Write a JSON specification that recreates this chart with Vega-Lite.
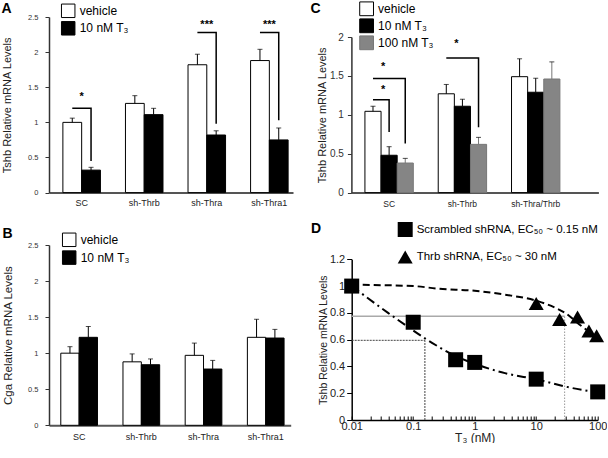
{
"$schema":"https://vega.github.io/schema/vega-lite/v6.json",
"padding":{"left":1,"top":1,"right":0,"bottom":0},
"config":{"font":"Liberation Sans","view":{"stroke":null},"axis":{"grid":false,"labelFont":"Liberation Sans","titleFont":"Liberation Sans","titleFontWeight":"normal"},"legend":{"labelFont":"Liberation Sans","labelLimit":400},"title":{"font":"Liberation Sans"}},
"resolve":{"scale":{"fill":"independent","stroke":"independent","shape":"independent","xOffset":"independent"},"legend":{"fill":"independent","shape":"independent"}},
"spacing":13,
"vconcat":[
{"hconcat":[
 {"width":244,"height":175.6,
  "title":{"text":"A","anchor":"start","frame":"bounds","fontSize":14,"fontWeight":"bold","baseline":"top","offset":-12.9,"color":"black"},
  "data":{"values":[
   {"g":"SC","s":"vehicle","v":1.0,"hi":1.06},
   {"g":"SC","s":"10 nM T₃","v":0.32,"hi":0.36},
   {"g":"sh-Thrb","s":"vehicle","v":1.27,"hi":1.38},
   {"g":"sh-Thrb","s":"10 nM T₃","v":1.11,"hi":1.2},
   {"g":"sh-Thra","s":"vehicle","v":1.82,"hi":1.97},
   {"g":"sh-Thra","s":"10 nM T₃","v":0.82,"hi":0.88},
   {"g":"sh-Thra1","s":"vehicle","v":1.88,"hi":2.04},
   {"g":"sh-Thra1","s":"10 nM T₃","v":0.75,"hi":0.92}
  ]},
  "layer":[
   {"mark":{"type":"bar","stroke":"black","strokeWidth":1},
    "encoding":{
     "x":{"field":"g","type":"nominal","scale":{"domain":["SC","sh-Thrb","sh-Thra","sh-Thra1"],"paddingInner":0.4,"paddingOuter":0.15,"align":0.74},
          "axis":{"title":null,"labelAngle":0,"ticks":false,"domainColor":"#555","domainWidth":2,"labelFontSize":9,"labelPadding":6,"labelColor":"#222"}},
     "xOffset":{"field":"s","type":"nominal","scale":{"domain":["vehicle","10 nM T₃"],"paddingInner":0,"paddingOuter":0}},
     "y":{"field":"v","type":"quantitative","scale":{"domain":[0,2.5],"nice":false},
          "axis":{"title":"Tshb Relative mRNA Levels","values":[0,0.5,1,1.5,2,2.5],"format":"~g","labelFontSize":7.5,"labelColor":"#333","labelPadding":7,"tickSize":4,"tickColor":"#333","domainColor":"#333","domainWidth":1.5,"titleFontSize":11,"titleColor":"#222","titlePadding":15,"labelOverlap":false}},
     "fill":{"field":"s","type":"nominal","scale":{"domain":["vehicle","10 nM T₃"],"range":["white","black"]},
          "legend":{"orient":"none","legendX":11.7,"legendY":-13.7,"padding":0,"title":null,"symbolType":"square","symbolSize":182,"symbolStrokeColor":"black","symbolStrokeWidth":1,"labelFontSize":12,"labelColor":"black","rowPadding":-1.5,"labelOffset":4}}
    }},
   {"mark":{"type":"rule","color":"black","strokeWidth":1},
    "encoding":{"x":{"field":"g","type":"nominal"},"xOffset":{"field":"s","type":"nominal"},
     "y":{"field":"v","type":"quantitative","scale":{"domain":[0,2.5],"nice":false},"axis":{"title":"Tshb Relative mRNA Levels","values":[0,0.5,1,1.5,2,2.5],"format":"~g"}},"y2":{"field":"hi"}}},
   {"mark":{"type":"tick","color":"black","size":5,"thickness":1},
    "encoding":{"x":{"field":"g","type":"nominal"},"xOffset":{"field":"s","type":"nominal"},
     "y":{"field":"hi","type":"quantitative","scale":{"domain":[0,2.5],"nice":false},"axis":{"title":"Tshb Relative mRNA Levels","values":[0,0.5,1,1.5,2,2.5],"format":"~g"}}}},
   {"data":{"values":[
     {"g":"SC","s":"vehicle","by":1.2,"id":"a1","o":1},
     {"g":"SC","s":"10 nM T₃","by":1.2,"id":"a1","o":2},
     {"g":"SC","s":"10 nM T₃","by":0.45,"id":"a1","o":3},
     {"g":"sh-Thra","s":"vehicle","by":2.28,"id":"a2","o":1},
     {"g":"sh-Thra","s":"10 nM T₃","by":2.28,"id":"a2","o":2},
     {"g":"sh-Thra","s":"10 nM T₃","by":0.98,"id":"a2","o":3},
     {"g":"sh-Thra1","s":"vehicle","by":2.28,"id":"a3","o":1},
     {"g":"sh-Thra1","s":"10 nM T₃","by":2.28,"id":"a3","o":2},
     {"g":"sh-Thra1","s":"10 nM T₃","by":1.03,"id":"a3","o":3}
    ]},
    "mark":{"type":"line","color":"black","strokeWidth":1.5},
    "encoding":{"x":{"field":"g","type":"nominal"},"xOffset":{"field":"s","type":"nominal"},
     "y":{"field":"by","type":"quantitative","scale":{"domain":[0,2.5],"nice":false},"axis":{"title":"Tshb Relative mRNA Levels","values":[0,0.5,1,1.5,2,2.5],"format":"~g"}},"detail":{"field":"id"},"order":{"field":"o"}}},
   {"data":{"values":[
     {"g":"SC","sy":1.36,"t":"*"},
     {"g":"sh-Thra","sy":2.38,"t":"***"},
     {"g":"sh-Thra1","sy":2.38,"t":"***"}
    ]},
    "mark":{"type":"text","fontSize":11,"fontWeight":"bold","baseline":"middle","color":"black"},
    "encoding":{"x":{"field":"g","type":"nominal"},
     "y":{"field":"sy","type":"quantitative","scale":{"domain":[0,2.5],"nice":false},"axis":{"title":"Tshb Relative mRNA Levels","values":[0,0.5,1,1.5,2,2.5],"format":"~g"}},"text":{"field":"t"}}}
  ]},
 {"width":247,"height":175.6,
  "title":{"text":"C","anchor":"start","frame":"bounds","fontSize":14,"fontWeight":"bold","baseline":"top","offset":-14.9,"dx":-6,"color":"black"},
  "data":{"values":[
   {"g":"SC","s":"vehicle","v":1.045,"hi":1.11},
   {"g":"SC","s":"10 nM T₃","v":0.48,"hi":0.59},
   {"g":"SC","s":"100 nM T₃","v":0.38,"hi":0.44},
   {"g":"sh-Thrb","s":"vehicle","v":1.27,"hi":1.39},
   {"g":"sh-Thrb","s":"10 nM T₃","v":1.11,"hi":1.2},
   {"g":"sh-Thrb","s":"100 nM T₃","v":0.62,"hi":0.71},
   {"g":"sh-Thra/Thrb","s":"vehicle","v":1.49,"hi":1.72},
   {"g":"sh-Thra/Thrb","s":"10 nM T₃","v":1.29,"hi":1.47},
   {"g":"sh-Thra/Thrb","s":"100 nM T₃","v":1.46,"hi":1.68}
  ]},
  "layer":[
   {"mark":{"type":"bar","strokeWidth":1},
    "encoding":{
     "x":{"field":"g","type":"nominal","scale":{"domain":["SC","sh-Thrb","sh-Thra/Thrb"],"paddingInner":0.34,"paddingOuter":0.355,"align":0.26},
          "axis":{"title":null,"labelAngle":0,"ticks":false,"domainColor":"#555","domainWidth":2,"labelFontSize":8.5,"labelPadding":7,"labelColor":"#222"}},
     "xOffset":{"field":"s","type":"nominal","scale":{"domain":["vehicle","10 nM T₃","100 nM T₃"],"paddingInner":0,"paddingOuter":0}},
     "y":{"field":"v","type":"quantitative","scale":{"domain":[0,2],"nice":false,"range":[175.6,20]},
          "axis":{"title":"Tshb Relative mRNA Levels","values":[0,0.5,1,1.5,2],"format":"~g","labelFontSize":10,"labelColor":"#333","labelPadding":4,"tickSize":4,"tickColor":"#333","domainColor":"#333","domainWidth":1.5,"titleFontSize":11,"titleColor":"#222","titlePadding":2,"labelOverlap":false}},
     "fill":{"field":"s","type":"nominal","scale":{"domain":["vehicle","10 nM T₃","100 nM T₃"],"range":["white","black","#858585"]},
          "legend":{"orient":"none","legendX":7.7,"legendY":-15.7,"padding":0,"title":null,"symbolType":"square","symbolSize":190,"symbolStrokeColor":"black","symbolStrokeWidth":1,"labelFontSize":12,"labelColor":"black","rowPadding":-2,"labelOffset":4}},
     "stroke":{"field":"s","type":"nominal","scale":{"domain":["vehicle","10 nM T₃","100 nM T₃"],"range":["black","black","#777777"]},"legend":null}
    }},
   {"mark":{"type":"rule","strokeWidth":1},
    "encoding":{"x":{"field":"g","type":"nominal"},"xOffset":{"field":"s","type":"nominal"},
     "y":{"field":"v","type":"quantitative","scale":{"domain":[0,2],"nice":false,"range":[175.6,20]},"axis":{"title":"Tshb Relative mRNA Levels","values":[0,0.5,1,1.5,2],"format":"~g"}},"y2":{"field":"hi"},"stroke":{"field":"s","type":"nominal","legend":null}}},
   {"mark":{"type":"tick","size":5,"thickness":1},
    "encoding":{"x":{"field":"g","type":"nominal"},"xOffset":{"field":"s","type":"nominal"},
     "y":{"field":"hi","type":"quantitative","scale":{"domain":[0,2],"nice":false,"range":[175.6,20]},"axis":{"title":"Tshb Relative mRNA Levels","values":[0,0.5,1,1.5,2],"format":"~g"}},"color":{"value":"black"}}},
   {"data":{"values":[
     {"g":"SC","s":"vehicle","by":1.465,"id":"c1","o":1},
     {"g":"SC","s":"100 nM T₃","by":1.465,"id":"c1","o":2},
     {"g":"SC","s":"100 nM T₃","by":0.63,"id":"c1","o":3},
     {"g":"SC","s":"vehicle","by":1.195,"id":"c2","o":1},
     {"g":"SC","s":"10 nM T₃","by":1.195,"id":"c2","o":2},
     {"g":"SC","s":"10 nM T₃","by":0.78,"id":"c2","o":3},
     {"g":"sh-Thrb","s":"vehicle","by":1.73,"id":"c3","o":1},
     {"g":"sh-Thrb","s":"100 nM T₃","by":1.73,"id":"c3","o":2},
     {"g":"sh-Thrb","s":"100 nM T₃","by":0.84,"id":"c3","o":3}
    ]},
    "mark":{"type":"line","color":"black","strokeWidth":1.5},
    "encoding":{"x":{"field":"g","type":"nominal"},"xOffset":{"field":"s","type":"nominal"},
     "y":{"field":"by","type":"quantitative","scale":{"domain":[0,2],"nice":false,"range":[175.6,20]},"axis":{"title":"Tshb Relative mRNA Levels","values":[0,0.5,1,1.5,2],"format":"~g"}},"detail":{"field":"id"},"order":{"field":"o"}}},
   {"data":{"values":[
     {"g":"SC","sy":1.61,"t":"*"},
     {"g":"SC","sy":1.32,"t":"*"},
     {"g":"sh-Thrb","sy":1.915,"t":"*"}
    ]},
    "mark":{"type":"text","fontSize":11,"fontWeight":"bold","baseline":"middle","color":"black","dx":-6},
    "encoding":{"x":{"field":"g","type":"nominal"},
     "y":{"field":"sy","type":"quantitative","scale":{"domain":[0,2],"nice":false,"range":[175.6,20]},"axis":{"title":"Tshb Relative mRNA Levels","values":[0,0.5,1,1.5,2],"format":"~g"}},"text":{"field":"t"}}}
  ]}
 ],
 "spacing":17.4,
 "resolve":{"scale":{"fill":"independent","stroke":"independent","shape":"independent","xOffset":"independent"},"legend":{"fill":"independent","shape":"independent"}}
},
{"hconcat":[
 {"width":241.7,"height":180.3,
  "title":{"text":"B","anchor":"start","frame":"bounds","fontSize":14,"fontWeight":"bold","baseline":"top","offset":-8.3,"color":"black"},
  "data":{"values":[
   {"g":"SC","s":"vehicle","v":1.0,"hi":1.09},
   {"g":"SC","s":"10 nM T₃","v":1.22,"hi":1.37},
   {"g":"sh-Thrb","s":"vehicle","v":0.88,"hi":0.99},
   {"g":"sh-Thrb","s":"10 nM T₃","v":0.84,"hi":0.92},
   {"g":"sh-Thra","s":"vehicle","v":0.97,"hi":1.14},
   {"g":"sh-Thra","s":"10 nM T₃","v":0.78,"hi":0.9},
   {"g":"sh-Thra1","s":"vehicle","v":1.22,"hi":1.47},
   {"g":"sh-Thra1","s":"10 nM T₃","v":1.21,"hi":1.33}
  ]},
  "layer":[
   {"mark":{"type":"bar","stroke":"black","strokeWidth":1},
    "encoding":{
     "x":{"field":"g","type":"nominal","scale":{"domain":["SC","sh-Thrb","sh-Thra","sh-Thra1"],"paddingInner":0.41,"paddingOuter":0.148,"align":0.64},
          "axis":{"title":null,"labelAngle":0,"ticks":false,"domainColor":"#555","domainWidth":2,"labelFontSize":9,"labelPadding":7,"labelColor":"#222"}},
     "xOffset":{"field":"s","type":"nominal","scale":{"domain":["vehicle","10 nM T₃"],"paddingInner":0,"paddingOuter":0}},
     "y":{"field":"v","type":"quantitative","scale":{"domain":[0,2.5],"nice":false},
          "axis":{"title":"Cga Relative mRNA Levels","values":[0,0.5,1,1.5,2,2.5],"format":"~g","labelFontSize":7.5,"labelColor":"#333","labelPadding":7,"tickSize":4,"tickColor":"#333","domainColor":"#333","domainWidth":1.5,"titleFontSize":11.5,"titleColor":"#222","titlePadding":14,"labelOverlap":false}},
     "fill":{"field":"s","type":"nominal","scale":{"domain":["vehicle","10 nM T₃"],"range":["white","black"]},
          "legend":{"orient":"none","legendX":12.7,"legendY":-12.7,"padding":0,"title":null,"symbolType":"square","symbolSize":182,"symbolStrokeColor":"black","symbolStrokeWidth":1,"labelFontSize":12,"labelColor":"black","rowPadding":-1.2,"labelOffset":4}}
    }},
   {"mark":{"type":"rule","color":"black","strokeWidth":1},
    "encoding":{"x":{"field":"g","type":"nominal"},"xOffset":{"field":"s","type":"nominal"},
     "y":{"field":"v","type":"quantitative","scale":{"domain":[0,2.5],"nice":false},"axis":{"title":"Cga Relative mRNA Levels","values":[0,0.5,1,1.5,2,2.5],"format":"~g"}},"y2":{"field":"hi"}}},
   {"mark":{"type":"tick","color":"black","size":5,"thickness":1},
    "encoding":{"x":{"field":"g","type":"nominal"},"xOffset":{"field":"s","type":"nominal"},
     "y":{"field":"hi","type":"quantitative","scale":{"domain":[0,2.5],"nice":false},"axis":{"title":"Cga Relative mRNA Levels","values":[0,0.5,1,1.5,2,2.5],"format":"~g"}}}}
  ]},
 {"width":246,"height":175,
  "title":{"text":"D","anchor":"start","frame":"bounds","fontSize":14,"fontWeight":"bold","baseline":"top","offset":-14.2,"dx":-7.3,"color":"black"},
  "encoding":{
   "x":{"field":"x","type":"quantitative","scale":{"type":"log","domain":[0.01,100],"nice":false},
       "axis":{"title":"T₃ (nM)","values":[0.01,0.02,0.03,0.04,0.05,0.06,0.07,0.08,0.09,0.1,0.2,0.3,0.4,0.5,0.6,0.7,0.8,0.9,1,2,3,4,5,6,7,8,9,10,20,30,40,50,60,70,80,90,100],
        "labelExpr":"abs(log(datum.value)/LN10 - round(log(datum.value)/LN10)) < 0.001 ? format(datum.value, '~g') : ''",
        "labelFontSize":11,"labelColor":"#222","labelPadding":4,"tickSize":-4,"tickColor":"black","domainColor":"black","domainWidth":1.5,"titleFontSize":12,"titleColor":"#222","titlePadding":1,"labelFlush":false,"labelOverlap":false}},
   "y":{"field":"y","type":"quantitative","scale":{"domain":[0,1.2],"nice":false,"range":[175,14.3]},
       "axis":{"title":"Tshb Relative mRNA Levels","values":[0,0.2,0.4,0.6,0.8,1,1.2],"format":"~g","labelFontSize":11,"labelColor":"#222","labelPadding":2,"tickSize":5,"tickColor":"black","domainColor":"black","domainWidth":1.5,"titleFontSize":10.5,"titleColor":"#222","titlePadding":1,"labelOverlap":false}}
  },
  "layer":[
   {"data":{"values":[{"x":0.01,"x2":29,"y":0.774}]},
    "mark":{"type":"rule","color":"#aaaaaa","strokeWidth":1.5},
    "encoding":{"x2":{"field":"x2"}}},
   {"data":{"values":[{"x":29,"y":0,"y2":0.774}]},
    "mark":{"type":"rule","color":"#999999","strokeWidth":1,"strokeDash":[1.5,1.5]},
    "encoding":{"y2":{"field":"y2"}}},
   {"data":{"values":[{"x":0.01,"x2":0.155,"y":0.595}]},
    "mark":{"type":"rule","color":"#444444","strokeWidth":1,"strokeDash":[2,1]},
    "encoding":{"x2":{"field":"x2"}}},
   {"data":{"values":[{"x":0.155,"y":0,"y2":0.595}]},
    "mark":{"type":"rule","color":"#444444","strokeWidth":1,"strokeDash":[2,1]},
    "encoding":{"y2":{"field":"y2"}}},
   {"data":{"values":[
     {"x":0.01,"y":1.01},{"x":0.1,"y":1.0},{"x":0.26,"y":0.98},{"x":1,"y":0.965},{"x":3.1,"y":0.936},{"x":10.9,"y":0.886},{"x":20,"y":0.84},{"x":29.5,"y":0.8},{"x":55,"y":0.7},{"x":75,"y":0.655},{"x":100,"y":0.615}
    ]},
    "mark":{"type":"line","color":"black","strokeWidth":2,"strokeDash":[7,4],"interpolate":"monotone"},
    "encoding":{}},
   {"data":{"values":[
     {"x":0.01,"y":1.0},{"x":0.039,"y":0.8},{"x":0.074,"y":0.71},{"x":0.155,"y":0.61},{"x":0.48,"y":0.48},{"x":1.15,"y":0.41},{"x":3.1,"y":0.35},{"x":10.9,"y":0.3},{"x":29.5,"y":0.25},{"x":100,"y":0.205}
    ]},
    "mark":{"type":"line","color":"black","strokeWidth":2,"strokeDash":[9,4,2,4],"interpolate":"monotone"},
    "encoding":{}},
   {"data":{"values":[
     {"x":0.01,"y":1.0,"k":"Thrb shRNA, EC₅₀ ~ 30 nM"},
     {"x":10,"y":0.87,"k":"Thrb shRNA, EC₅₀ ~ 30 nM"},
     {"x":24,"y":0.75,"k":"Thrb shRNA, EC₅₀ ~ 30 nM"},
     {"x":47,"y":0.77,"k":"Thrb shRNA, EC₅₀ ~ 30 nM"},
     {"x":72,"y":0.665,"k":"Thrb shRNA, EC₅₀ ~ 30 nM"},
     {"x":96,"y":0.63,"k":"Thrb shRNA, EC₅₀ ~ 30 nM"},
     {"x":0.01,"y":1.0,"k":"Scrambled shRNA, EC₅₀ ~ 0.15 nM"},
     {"x":0.1,"y":0.73,"k":"Scrambled shRNA, EC₅₀ ~ 0.15 nM"},
     {"x":0.49,"y":0.45,"k":"Scrambled shRNA, EC₅₀ ~ 0.15 nM"},
     {"x":1,"y":0.43,"k":"Scrambled shRNA, EC₅₀ ~ 0.15 nM"},
     {"x":10,"y":0.305,"k":"Scrambled shRNA, EC₅₀ ~ 0.15 nM"},
     {"x":100,"y":0.21,"k":"Scrambled shRNA, EC₅₀ ~ 0.15 nM"}
    ]},
    "mark":{"type":"point","filled":true,"color":"black","opacity":1,"size":225},
    "encoding":{
     "shape":{"field":"k","type":"nominal","scale":{"domain":["Scrambled shRNA, EC₅₀ ~ 0.15 nM","Thrb shRNA, EC₅₀ ~ 30 nM"],"range":["square","triangle-up"]},
       "legend":{"orient":"none","legendX":46,"legendY":-23,"padding":0,"title":null,"symbolSize":225,"symbolFillColor":"black","symbolStrokeColor":"black","symbolStrokeWidth":0,"symbolOpacity":1,"labelFontSize":11.5,"labelColor":"black","rowPadding":12.6,"labelOffset":4}}}}
  ]}
 ],
 "spacing":19.7,
 "resolve":{"scale":{"fill":"independent","stroke":"independent","shape":"independent","xOffset":"independent"},"legend":{"fill":"independent","shape":"independent"}}
}
]
}
